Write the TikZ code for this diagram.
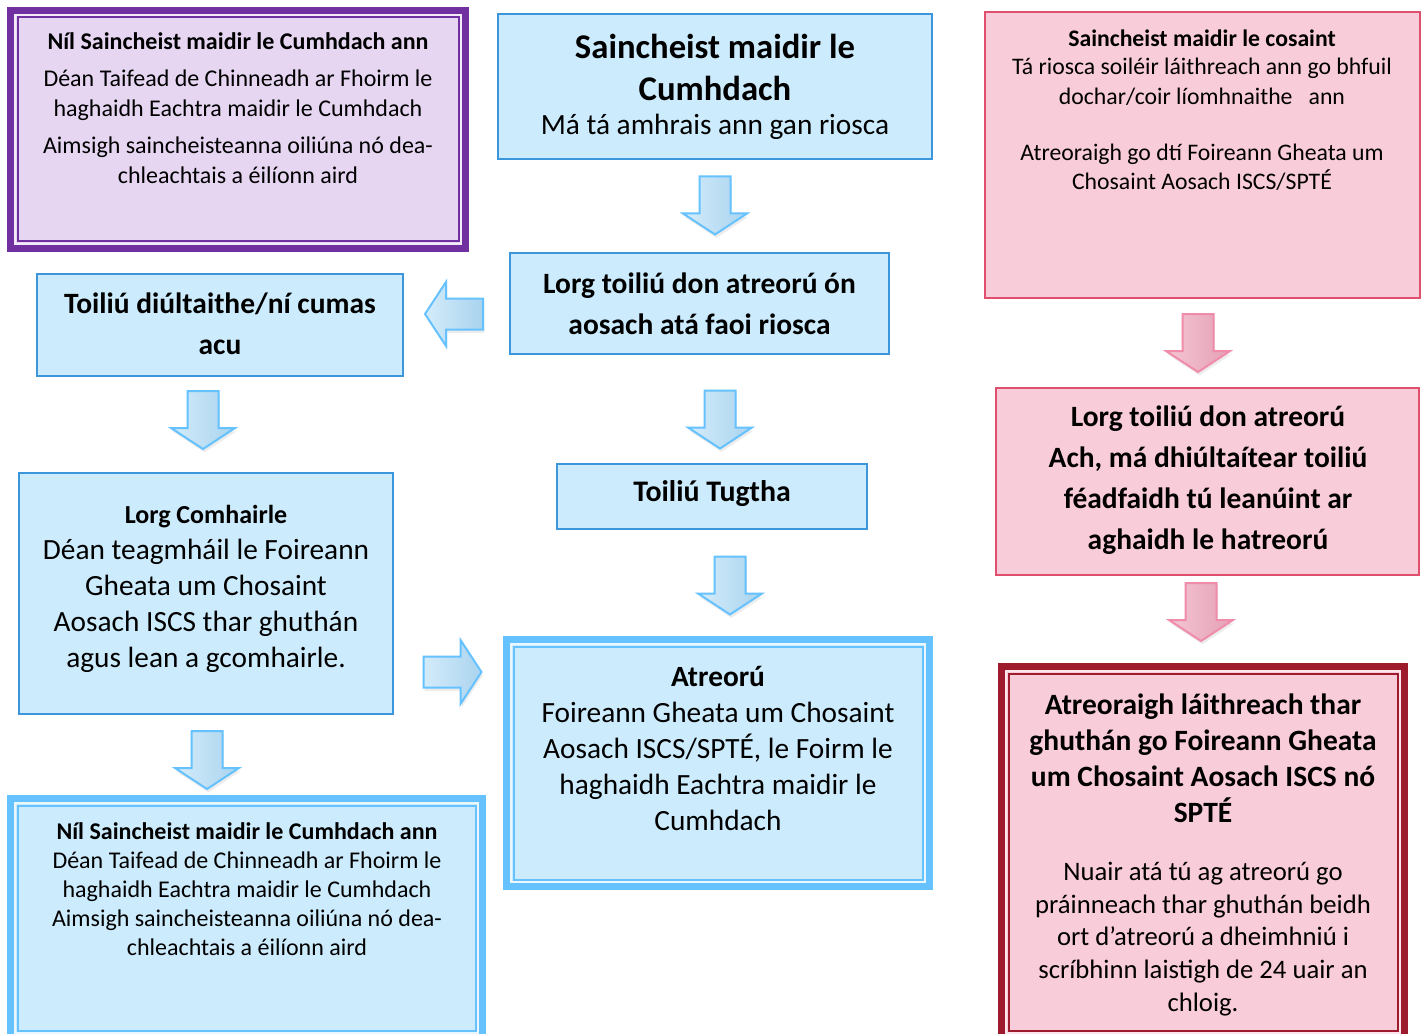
\documentclass[tikz,border=0pt]{standalone}
\usepackage{fontspec}
\setmainfont{Carlito}
\usetikzlibrary{shadows}
\definecolor{bfill}{HTML}{CCEBFC}
\definecolor{bline}{HTML}{3C96DC}
\definecolor{bthick}{HTML}{66C2FF}
\definecolor{pfill}{HTML}{E6D6F2}
\definecolor{pline}{HTML}{7030A0}
\definecolor{kfill}{HTML}{F9CCD9}
\definecolor{kline}{HTML}{E0506E}
\definecolor{rline}{HTML}{9E1B2E}
\definecolor{aline}{HTML}{66C2FF}
\definecolor{adark}{HTML}{A9D3EE}
\definecolor{alight}{HTML}{D4ECFA}
\definecolor{kaline}{HTML}{F08CAA}
\definecolor{kadark}{HTML}{E4A0B6}
\definecolor{kalight}{HTML}{F4C6D4}
\newcommand\fs[2]{\fontsize{#1}{#2}\selectfont}
\newcommand\mkbox[6]{\node[#2, minimum width={(#5-#3)*0.75pt}, minimum height={(#6-#4)*0.75pt}] (#1) at ({(#3+#5)/2},{(#4+#6)/2}) {};}
\newcommand\innerlines[3]{%
  \draw[line width=1.6pt, #3] ([xshift=3.5pt,yshift=-3.5pt]#1.north west) rectangle ([xshift=-3.5pt,yshift=3.5pt]#1.south east);
  \draw[line width=1.5pt, #2] ([xshift=5.25pt,yshift=-5.25pt]#1.north west) rectangle ([xshift=-5.25pt,yshift=5.25pt]#1.south east);}
% block arrow: name, style, x, y, rotation (0 = pointing down)
\newcommand\blockarrow[5]{%
  \coordinate (#1) at (#3,#4);
  \draw[#2, shift={(#1)}, rotate=#5] (-15.5,-29) -- (15.5,-29) -- (15.5,8) -- (32,8) -- (0,29) -- (-32,8) -- (-15.5,8) -- cycle;}
\tikzset{
  txt/.style={align=center, inner sep=0pt, text=black},
  thinbox/.style={rectangle, inner sep=0pt, outer sep=0pt, draw=bline, fill=bfill, line width=1pt},
  pinkbox/.style={rectangle, inner sep=0pt, outer sep=0pt, draw=kline, fill=kfill, line width=1pt},
  thickbox/.style={rectangle, inner sep=0pt, outer sep=0pt, line width=5.25pt},
  barrow/.style={line width=1.5pt, line join=miter, draw=aline, left color=alight, right color=adark,
    drop shadow={opacity=0.15, shadow xshift=1pt, shadow yshift=-2.5pt}},
  karrow/.style={barrow, draw=kaline, left color=kalight, right color=kadark},
}
\begin{document}
\begin{tikzpicture}[x=0.75pt,y=-0.75pt]
\fill[white] (0,0) rectangle (1427,1034);
\useasboundingbox (0,0) rectangle (1427,1034);

% boxes
\mkbox{purple}{thickbox, draw=pline, fill=pfill}{10.5}{10.5}{465.5}{248.5}
\innerlines{purple}{pline}{white!50!pfill}
\mkbox{ctop}{thinbox}{498}{14}{932}{159}
\mkbox{rtop}{pinkbox}{985}{12}{1420}{298}
\mkbox{lorg}{thinbox}{510}{253}{889}{354}
\mkbox{diul}{thinbox}{37}{274}{403}{376}
\mkbox{tugtha}{thinbox}{557}{464}{867}{529}
\mkbox{comh}{thinbox}{19}{473}{393}{714}
\mkbox{atreoru}{thickbox, draw=bthick, fill=bfill}{506.5}{639.5}{929.5}{886.5}
\innerlines{atreoru}{bthick}{white!60!bfill}
\mkbox{bleft}{thickbox, draw=bthick, fill=bfill}{10.5}{798.5}{482.5}{1037.5}
\innerlines{bleft}{bthick}{white!60!bfill}
\mkbox{pink}{pinkbox}{996}{388}{1419}{575}
\mkbox{dred}{thickbox, draw=rline, fill=kfill}{1001.5}{666.5}{1404.5}{1037.5}
\innerlines{dred}{rline}{white!50!kfill}

% arrows
\blockarrow{a1}{barrow}{715}{205.5}{0}
\blockarrow{a2}{barrow}{454}{314}{-90}
\blockarrow{a3}{barrow}{203}{420}{0}
\blockarrow{a4}{barrow}{720}{419.5}{0}
\blockarrow{a5}{barrow}{730}{585.5}{0}
\blockarrow{a6}{barrow}{452.5}{672}{90}
\blockarrow{a7}{barrow}{207}{760}{0}
\blockarrow{a8}{karrow}{1198}{343}{0}
\blockarrow{a9}{karrow}{1201}{612}{0}

% texts
\node[txt, font={\fs{18}{22.5}}] (tP) at (238,108.5) {\textbf{Níl Saincheist maidir le Cumhdach ann}\\[5.25pt]Déan Taifead de Chinneadh ar Fhoirm le\\haghaidh Eachtra maidir le Cumhdach\\[5.25pt]Aimsigh saincheisteanna oiliúna nó dea-\\chleachtais a éilíonn aird};

\node[txt, font={\fs{26}{31.5}\bfseries}] (tC1) at (715,67) {Saincheist maidir le\\Cumhdach};
\node[txt, font={\fs{22}{27}}] (tC2) at (715,127) {Má tá amhrais ann gan riosca};

\node[txt, font={\fs{17.8}{22}\bfseries}] (tR1) at (1202,38) {Saincheist maidir le cosaint};
\node[txt, font={\fs{17.8}{22.5}}] (tR2) at (1202,82) {Tá riosca soiléir láithreach ann go bhfuil\\dochar/coir líomhnaithe\ \ \ ann};
\node[txt, font={\fs{17.8}{22}}] (tR3) at (1202,167.5) {Atreoraigh go dtí Foireann Gheata um\\Chosaint Aosach ISCS/SPTÉ};

\node[txt, font={\fs{22.1}{30.75}\bfseries}] (tL) at (699.5,303.5) {Lorg toiliú don atreorú ón\\aosach atá faoi riosca};
\node[txt, font={\fs{22.1}{30.75}\bfseries}] (tD) at (220,323.5) {Toiliú diúltaithe/ní cumas\\acu};
\node[txt, font={\fs{22.4}{30.75}\bfseries}] (tT) at (712,494) {Toiliú Tugtha};

\node[txt, font={\fs{19.5}{24}\bfseries}] (tM1) at (206,517) {Lorg Comhairle};
\node[txt, font={\fs{22}{27}}] (tM2) at (206,606) {Déan teagmháil le Foireann\\Gheata um Chosaint\\Aosach ISCS thar ghuthán\\agus lean a gcomhairle.};

\node[txt, font={\fs{22}{27}}] (tA) at (718,748) {\textbf{Atreorú}\\Foireann Gheata um Chosaint\\Aosach ISCS/SPTÉ, le Foirm le\\haghaidh Eachtra maidir le\\Cumhdach};

\node[txt, font={\fs{18}{21.75}}] (tB) at (247,889.5) {\textbf{Níl Saincheist maidir le Cumhdach ann}\\Déan Taifead de Chinneadh ar Fhoirm le\\haghaidh Eachtra maidir le Cumhdach\\Aimsigh saincheisteanna oiliúna nó dea-\\chleachtais a éilíonn aird};

\node[txt, font={\fs{22.1}{30.75}\bfseries}] (tK) at (1208,480.5) {Lorg toiliú don atreorú\\Ach, má dhiúltaítear toiliú\\féadfaidh tú leanúint ar\\aghaidh le hatreorú};

\node[txt, font={\fs{22.1}{27}\bfseries}] (tX1) at (1203,758) {Atreoraigh láithreach thar\\ghuthán go Foireann Gheata\\um Chosaint Aosach ISCS nó\\SPTÉ};
\node[txt, font={\fs{20}{24.5}}] (tX2) at (1203,939) {Nuair atá tú ag atreorú go\\práinneach thar ghuthán beidh\\ort d’atreorú a dheimhniú i\\scríbhinn laistigh de 24 uair an\\chloig.};
\end{tikzpicture}
\end{document}
